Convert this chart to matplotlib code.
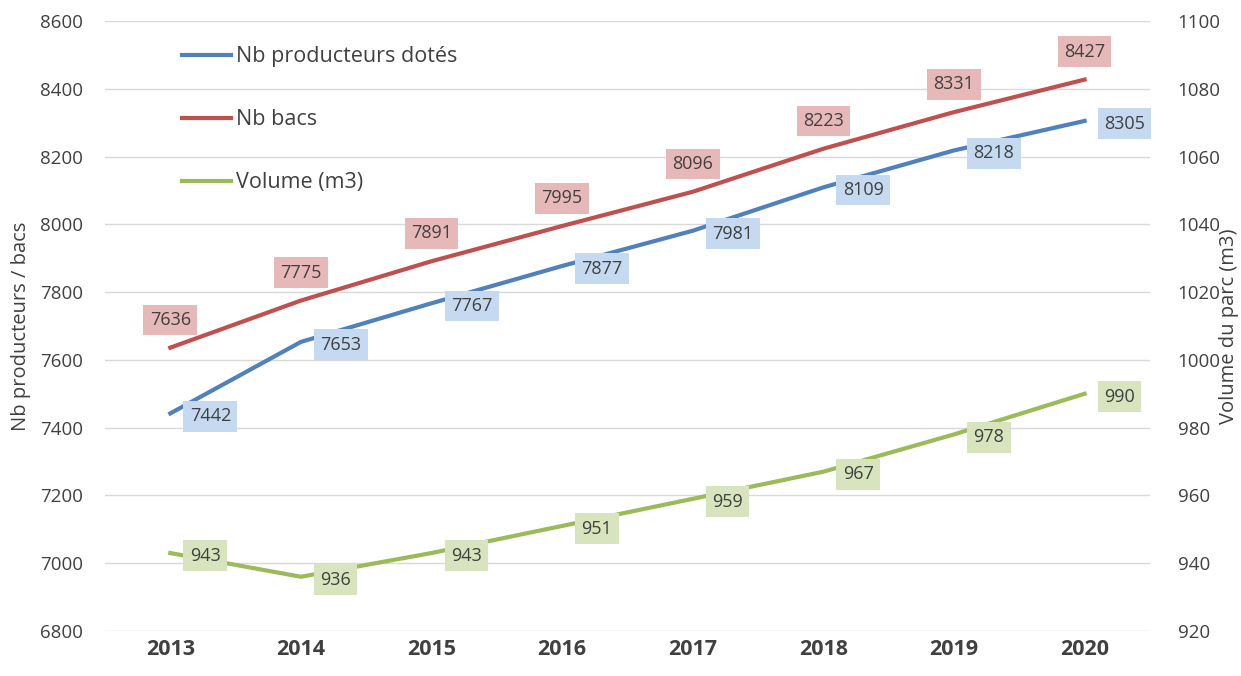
import matplotlib
matplotlib.use("Agg")
import matplotlib.pyplot as plt

plt.rcParams['font.family'] = ['Open Sans', 'DejaVu Sans']

years = ['2013', '2014', '2015', '2016', '2017', '2018', '2019', '2020']
producteurs = [7442, 7653, 7767, 7877, 7981, 8109, 8218, 8305]
bacs = [7636, 7775, 7891, 7995, 8096, 8223, 8331, 8427]
volume = [943, 936, 943, 951, 959, 967, 978, 990]

blue = '#4F81BD'
red = '#C0504D'
green = '#9BBB59'
txt = '#404040'

fig = plt.figure(figsize=(12.41, 6.76), dpi=100)
ax = fig.add_axes([0.0846, 0.0666, 0.842, 0.9024])
ax2 = ax.twinx()

x = list(range(len(years)))
l1, = ax.plot(x, producteurs, color=blue, lw=3, label='Nb producteurs dotés')
l2, = ax.plot(x, bacs, color=red, lw=3, label='Nb bacs')
l3, = ax2.plot(x, volume, color=green, lw=3, label='Volume (m3)')

ax.set_xlim(-0.5, len(years) - 0.5)
ax.set_ylim(6800, 8600)
ax.set_yticks(range(6800, 8601, 200))
ax2.set_ylim(920, 1100)
ax2.set_yticks(range(920, 1101, 20))
ax.grid(axis='y', color='#D9D9D9', lw=1)
ax.set_axisbelow(True)

for a in (ax, ax2):
    for s in a.spines.values():
        s.set_visible(False)
    a.tick_params(length=0, colors=txt)
    a.tick_params(axis='y', labelsize=13.5)
ax.tick_params(axis='x', pad=6)
ax.tick_params(axis='y', pad=16)
ax2.tick_params(axis='y', pad=20)

ax.set_xticks(x)
ax.set_xticklabels(years, fontsize=15.5, fontweight='bold', color=txt)

ax.set_ylabel('Nb producteurs / bacs', fontsize=14.5, color=txt)
ax2.set_ylabel('Volume du parc (m3)', fontsize=14.5, color=txt)
ax.yaxis.set_label_coords(-0.071, 0.5)
ax2.yaxis.set_label_coords(1.066, 0.5)

# data labels
for i, v in enumerate(producteurs):
    ax.annotate(str(v), (i, v), xytext=(14, -2), textcoords='offset points',
                ha='left', va='center', fontsize=13, color=txt,
                bbox=dict(boxstyle='square,pad=0.35', fc='#C5D9F1', ec='none'))
for i, v in enumerate(bacs):
    ax.annotate(str(v), (i, v), xytext=(0, 20), textcoords='offset points',
                ha='center', va='center', fontsize=13, color=txt,
                bbox=dict(boxstyle='square,pad=0.35', fc='#E6B9B8', ec='none'))
for i, v in enumerate(volume):
    ax2.annotate(str(v), (i, v), xytext=(14, -2), textcoords='offset points',
                 ha='left', va='center', fontsize=13, color=txt,
                 bbox=dict(boxstyle='square,pad=0.35', fc='#D7E4BD', ec='none'))

ax.legend(handles=[l1, l2, l3], loc='upper left', bbox_to_anchor=(0.055, 0.99),
          frameon=False, fontsize=15.5, labelspacing=1.95, handlelength=2.3,
          handletextpad=0.2, labelcolor=txt)

fig.savefig('out.png', dpi=100)
